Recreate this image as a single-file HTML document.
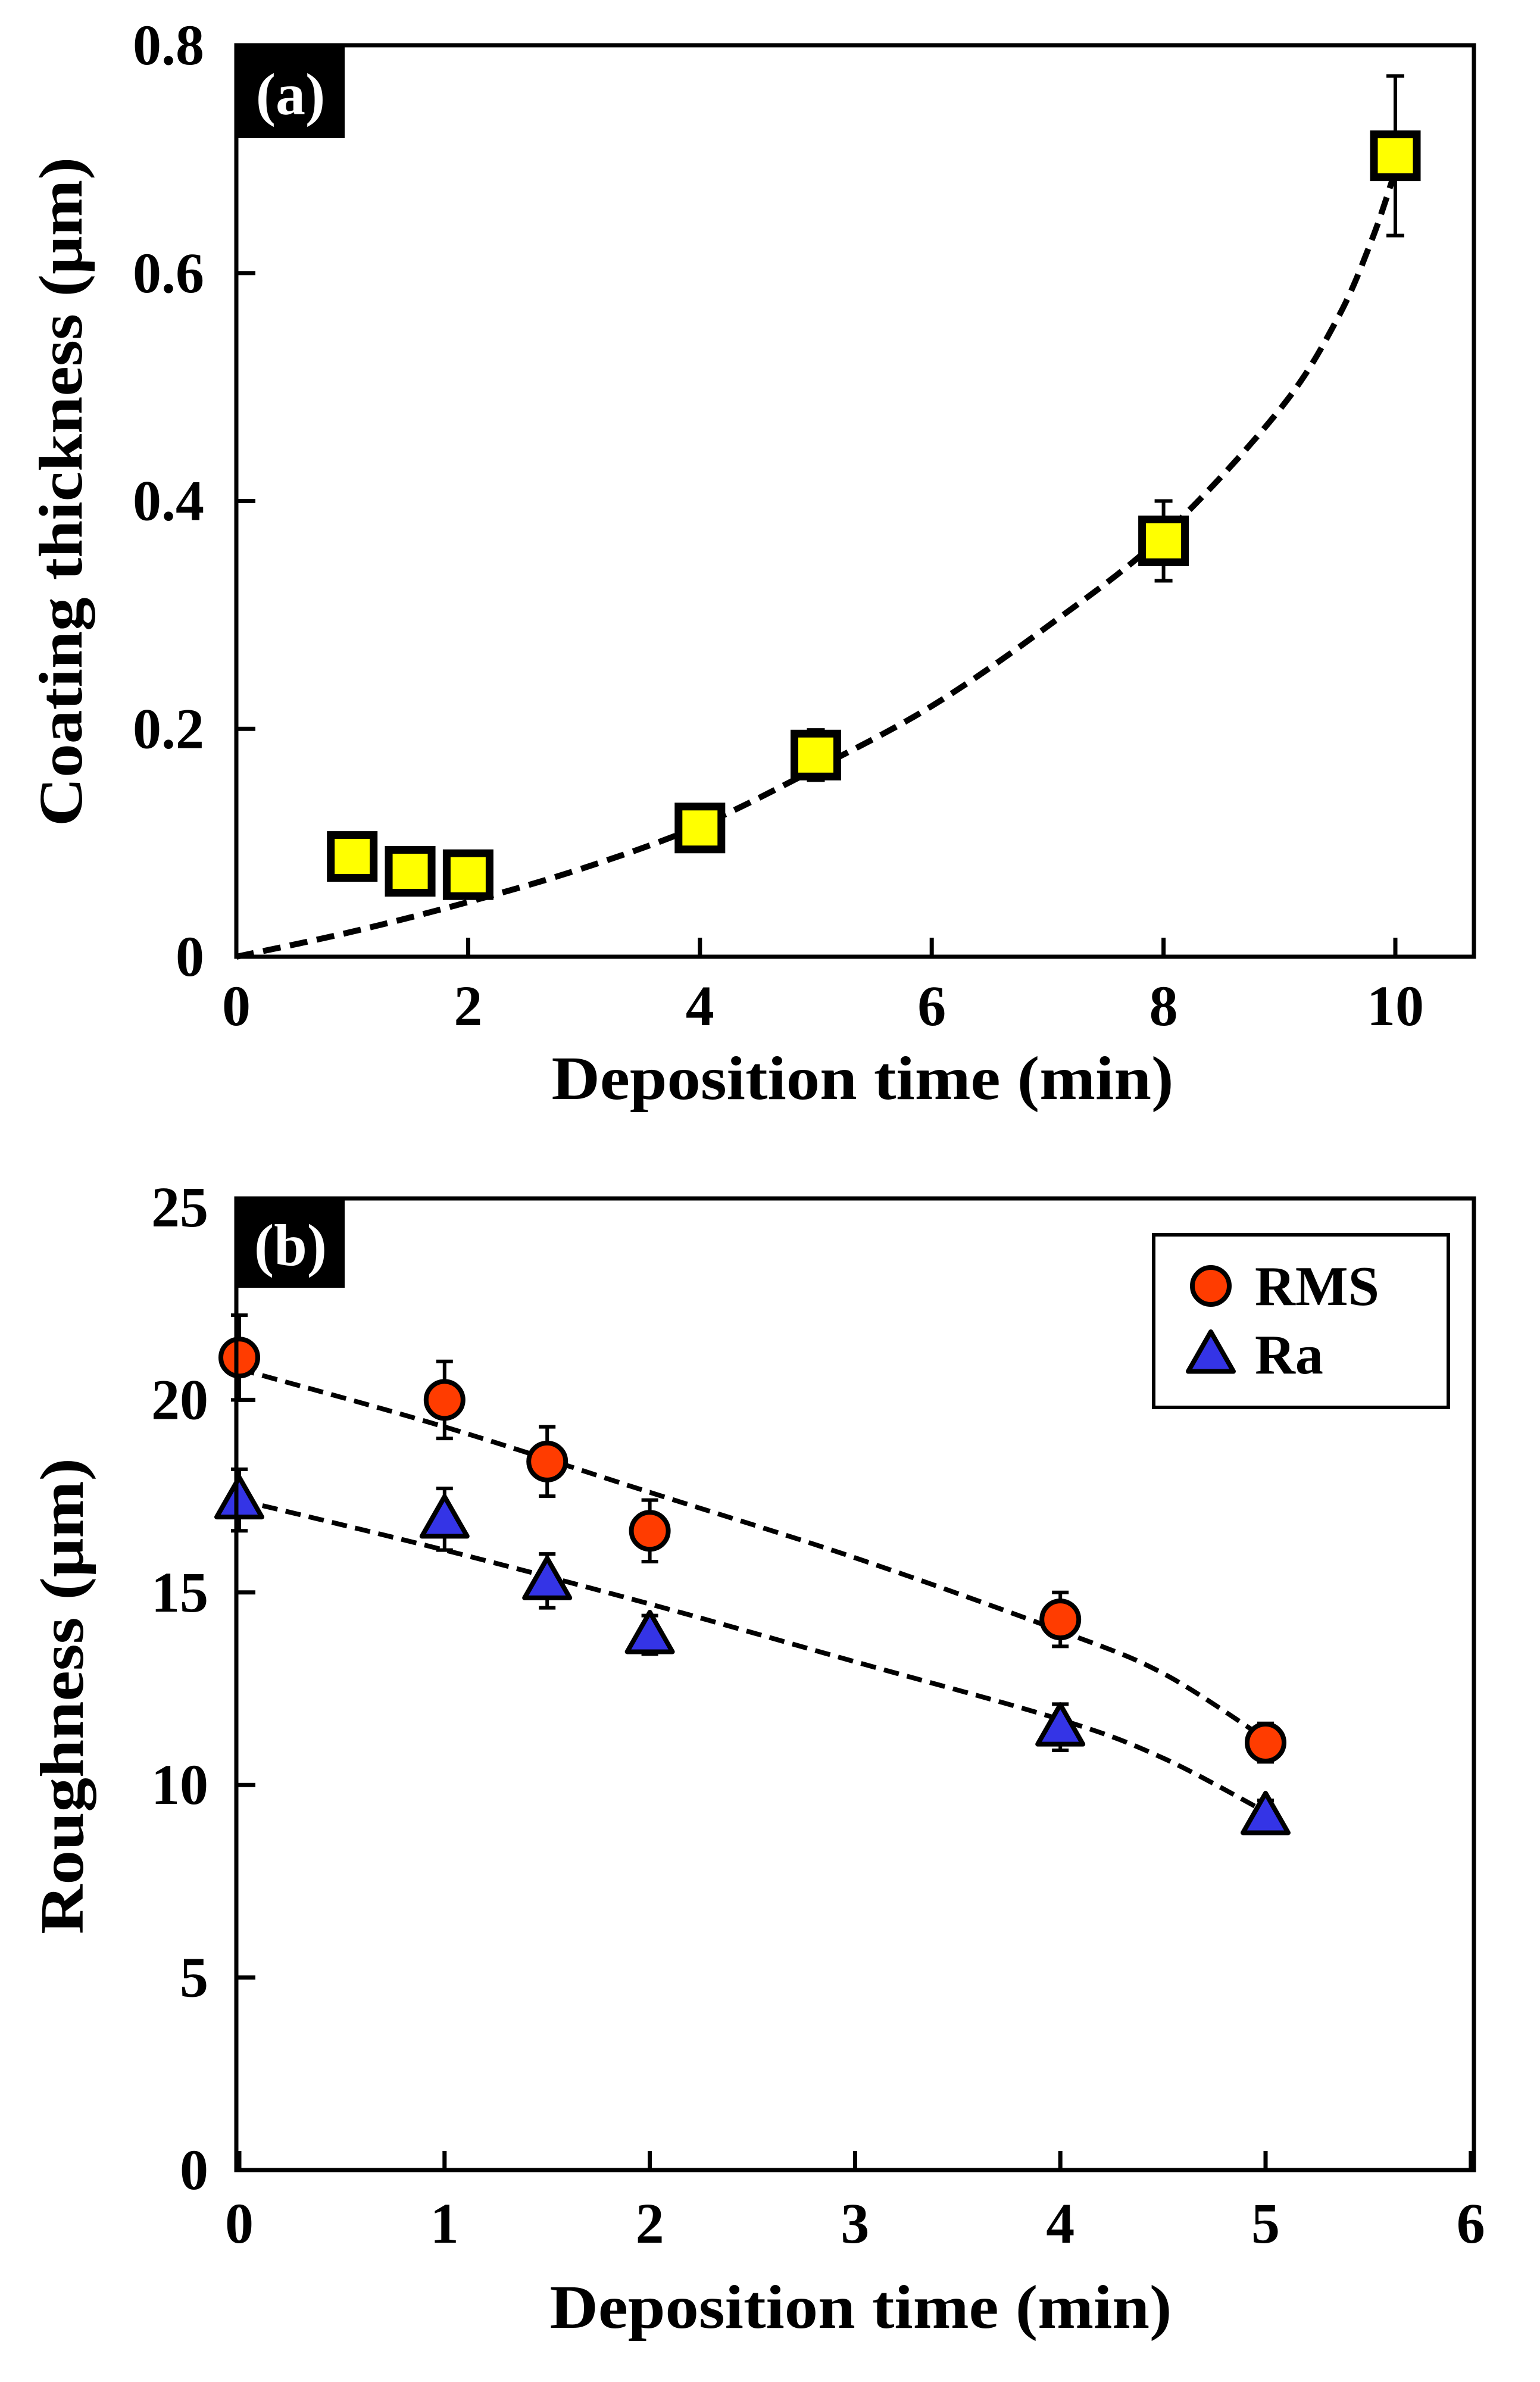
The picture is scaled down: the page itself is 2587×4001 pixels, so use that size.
<!DOCTYPE html>
<html><head><meta charset="utf-8"><style>
html,body{margin:0;padding:0;background:#fff}
svg{display:block}
text{font-family:"Liberation Serif",serif;font-weight:bold;fill:#000}
</style></head><body>
<svg id="fig" width="2587" height="4001" viewBox="0 0 2587 4001" xmlns="http://www.w3.org/2000/svg"></svg>
<script>
// ---- Panel (a) data ----
const aTime = [1, 1.5, 2, 4, 5, 8, 10];
const aThick = [0.088, 0.075, 0.072, 0.113, 0.177, 0.365, 0.703];
const aErr = [0, 0, 0, 0, 0.022, 0.035, 0.07];
const aFitX = [0, 1, 2, 3, 4, 5, 6, 7, 8, 9, 9.5, 9.8, 10];
const aFitY = [0, 0.022, 0.048, 0.078, 0.115, 0.165, 0.22, 0.29, 0.37, 0.48, 0.56, 0.63, 0.69];
const aXTicks = [0, 2, 4, 6, 8, 10];
const aYTicks = [0, 0.2, 0.4, 0.6, 0.8];
const aYTickLabels = ["0", "0.2", "0.4", "0.6", "0.8"];
// ---- Panel (b) data ----
const bTime = [0, 1, 1.5, 2, 4, 5];
const bRMS = [21.1, 20.0, 18.4, 16.6, 14.3, 11.1];
const bRMSErr = [1.1, 1.0, 0.9, 0.8, 0.7, 0.5];
const bRa = [17.4, 16.9, 15.3, 13.9, 11.5, 9.2];
const bRaErr = [0.8, 0.8, 0.7, 0.5, 0.6, 0.4];
const bFitX = [0, 1, 2, 3, 4, 4.5, 5];
const bFitRMS = [20.8, 19.3, 17.6, 15.9, 14.0, 12.9, 11.2];
const bFitRa = [17.4, 16.1, 14.7, 13.2, 11.7, 10.7, 9.3];
const bXTicks = [0, 1, 2, 3, 4, 5, 6];
const bYTicks = [0, 5, 10, 15, 20, 25];

const NS = "http://www.w3.org/2000/svg";
const svg = document.getElementById("fig");
function mk(tag, attrs, parent, txt) {
  const e = document.createElementNS(NS, tag);
  for (const k in attrs) e.setAttribute(k, attrs[k]);
  if (txt !== undefined) e.textContent = txt;
  (parent || svg).appendChild(e);
  return e;
}
function smoothPath(xs, ys) {
  let d = "M" + xs[0] + "," + ys[0];
  for (let i = 0; i < xs.length - 1; i++) {
    const x0 = xs[Math.max(i - 1, 0)], y0 = ys[Math.max(i - 1, 0)];
    const x1 = xs[i], y1 = ys[i], x2 = xs[i + 1], y2 = ys[i + 1];
    const x3 = xs[Math.min(i + 2, xs.length - 1)], y3 = ys[Math.min(i + 2, xs.length - 1)];
    d += " C" + (x1 + (x2 - x0) / 6) + "," + (y1 + (y2 - y0) / 6) + " " + (x2 - (x3 - x1) / 6) + "," + (y2 - (y3 - y1) / 6) + " " + x2 + "," + y2;
  }
  return d;
}
const TF = 96; // tick font size

// ===== Panel (a) =====
const A = {l: 397, r: 2476, t: 76, b: 1607};
const ax = v => 397 + v * 194.7;
const ay = v => 1607 - v / 0.8 * 1531;
const ga = mk("g", {});


aXTicks.forEach(v => {
  const t = mk("line", {x1: ax(v), x2: ax(v), y1: A.b, y2: A.b - 32, stroke: "#000", "stroke-width": 7}, ga);
  
  
  const l = mk("text", {x: ax(v), y: 1722, "font-size": TF, "text-anchor": "middle"}, ga, String(v));
  
  
});
aYTicks.forEach((v, i) => {
  const t = mk("line", {x1: A.l, x2: A.l + 32, y1: ay(v), y2: ay(v), stroke: "#000", "stroke-width": 7}, ga);
  
  
  const l = mk("text", {x: 343, y: ay(v) + 32, "font-size": TF, "text-anchor": "end"}, ga, aYTickLabels[i]);
  
  
});
const fa = mk("path", {d: smoothPath(aFitX.map(ax), aFitY.map(ay)), fill: "none", stroke: "#000", "stroke-width": 10, "stroke-dasharray": "30,16"}, ga);


aTime.forEach((v, i) => {
  if (aErr[i] > 0) {
    const e = mk("path", {d: "M" + ax(v) + "," + ay(aThick[i] + aErr[i]) + "V" + ay(aThick[i] - aErr[i]) + "M" + (ax(v) - 15) + "," + ay(aThick[i] + aErr[i]) + "h30M" + (ax(v) - 15) + "," + ay(aThick[i] - aErr[i]) + "h30", stroke: "#000", "stroke-width": 6, fill: "none"}, ga);
    
    
  }
  const s = mk("rect", {x: ax(v) - 36, y: ay(aThick[i]) - 36, width: 72, height: 72, fill: "#ffff00", stroke: "#000", "stroke-width": 13}, ga);
  
  
});
const fra = mk("rect", {x: A.l, y: A.t, width: A.r - A.l, height: A.b - A.t, fill: "none", stroke: "#000", "stroke-width": 7}, ga);


const boxa = mk("rect", {x: 397, y: 76, width: 182, height: 156, fill: "#000"}, ga);


const lba = mk("text", {x: 488, y: 192, "font-size": 100, "text-anchor": "middle", style: "fill:#fff"}, ga, "(a)");


const xta = mk("text", {x: 1449, y: 1846, "font-size": 104, "text-anchor": "middle", textLength: 1045, lengthAdjust: "spacingAndGlyphs"}, ga, "Deposition time (min)");


const yta = mk("text", {x: 0, y: 0, "font-size": 104, "text-anchor": "middle", textLength: 1124, lengthAdjust: "spacingAndGlyphs", transform: "translate(137,826) rotate(-90)"}, ga, "Coating thickness (μm)");



// ===== Panel (b) =====
const B = {l: 397, r: 2476, t: 2013, b: 3645};
const bx = v => 402 + v * 344.8;
const by = v => 3645 - v / 25 * 1617;
const gb = mk("g", {});


bXTicks.forEach(v => {
  const t = mk("line", {x1: bx(v), x2: bx(v), y1: B.b, y2: B.b - 32, stroke: "#000", "stroke-width": 7}, gb);
  
  
  const l = mk("text", {x: bx(v), y: 3767, "font-size": TF, "text-anchor": "middle"}, gb, String(v));
  
  
});
bYTicks.forEach(v => {
  const t = mk("line", {x1: B.l, x2: B.l + 32, y1: by(v), y2: by(v), stroke: "#000", "stroke-width": 7}, gb);
  
  
  const l = mk("text", {x: 350, y: by(v) + 32, "font-size": TF, "text-anchor": "end"}, gb, String(v));
  
  
});
const f1 = mk("path", {d: smoothPath(bFitX.map(bx), bFitRMS.map(by)), fill: "none", stroke: "#000", "stroke-width": 8, "stroke-dasharray": "26,14"}, gb);


const f2 = mk("path", {d: smoothPath(bFitX.map(bx), bFitRa.map(by)), fill: "none", stroke: "#000", "stroke-width": 8, "stroke-dasharray": "26,14"}, gb);


function errBar(x, y, e, parent) {
  return mk("path", {d: "M" + x + "," + by(y + e) + "V" + by(y - e) + "M" + (x - 14) + "," + by(y + e) + "h28M" + (x - 14) + "," + by(y - e) + "h28", stroke: "#000", "stroke-width": 6, fill: "none"}, parent);
}
function tri(cx, cy, s) {
  return (cx) + "," + (cy - s) + " " + (cx - s * 1.0) + "," + (cy + s * 0.75) + " " + (cx + s * 1.0) + "," + (cy + s * 0.75);
}
bTime.forEach((v, i) => {
  const e = errBar(bx(v), bRMS[i], bRMSErr[i], gb);
  
  
  const c = mk("circle", {cx: bx(v), cy: by(bRMS[i]), r: 31, fill: "#ff3c00", stroke: "#000", "stroke-width": 8}, gb);
  
  
});
bTime.forEach((v, i) => {
  const e = errBar(bx(v), bRa[i], bRaErr[i], gb);
  
  
  const t = mk("polygon", {points: tri(bx(v), by(bRa[i]), 38), fill: "#3434e6", stroke: "#000", "stroke-width": 8, "stroke-linejoin": "round"}, gb);
  
  
});
const frb = mk("rect", {x: B.l, y: B.t, width: B.r - B.l, height: B.b - B.t, fill: "none", stroke: "#000", "stroke-width": 7}, gb);


const boxb = mk("rect", {x: 397, y: 2013, width: 182, height: 150, fill: "#000"}, gb);


const lbb = mk("text", {x: 488, y: 2125, "font-size": 100, "text-anchor": "middle", style: "fill:#fff"}, gb, "(b)");


const lg = mk("g", {}, gb);


const lgb = mk("rect", {x: 1938, y: 2074, width: 495, height: 290, fill: "#fff", stroke: "#000", "stroke-width": 6}, lg);


const lc = mk("circle", {cx: 2034, cy: 2160, r: 31, fill: "#ff3c00", stroke: "#000", "stroke-width": 8}, lg);


const lt1 = mk("text", {x: 2108, y: 2192, "font-size": 94}, lg, "RMS");


const lt = mk("polygon", {points: tri(2034, 2275, 38), fill: "#3434e6", stroke: "#000", "stroke-width": 8, "stroke-linejoin": "round"}, lg);


const lt2 = mk("text", {x: 2108, y: 2307, "font-size": 94}, lg, "Ra");


const xtb = mk("text", {x: 1446, y: 3910, "font-size": 104, "text-anchor": "middle", textLength: 1045, lengthAdjust: "spacingAndGlyphs"}, gb, "Deposition time (min)");


const ytb = mk("text", {x: 0, y: 0, "font-size": 104, "text-anchor": "middle", textLength: 800, lengthAdjust: "spacingAndGlyphs", transform: "translate(139,2849) rotate(-90)"}, gb, "Roughness (μm)");


</script>
</body></html>
